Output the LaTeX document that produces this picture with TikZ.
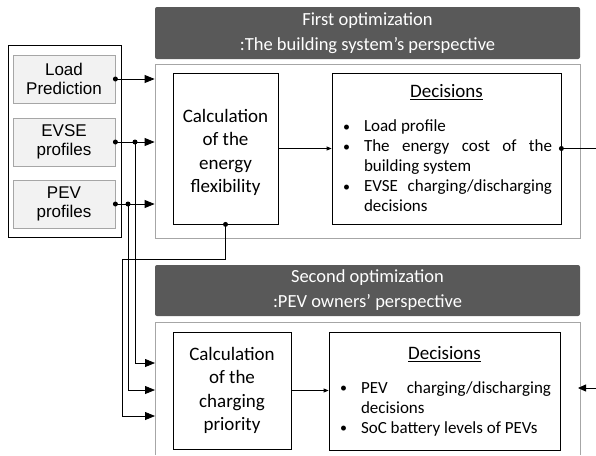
\documentclass[tikz,border=0pt]{standalone}
\usepackage{fontspec}
\setmainfont{Carlito}
\newfontfamily\arialf{Liberation Sans}
\usetikzlibrary{arrows.meta}
\definecolor{hdrgray}{HTML}{595959}
\definecolor{panelgray}{HTML}{A6A6A6}
\definecolor{boxfill}{HTML}{F2F2F2}
\newcommand\dbul{\makebox[23pt][l]{\kern2pt\raisebox{0.5pt}{\fontsize{14}{14}\selectfont\textbullet}}}
\newcommand\ditem[1]{\par\noindent\hangindent=23pt\hangafter=1\dbul#1\par}
\newcommand\jline[1]{\par\noindent\hangindent=23pt\hangafter=1\dbul\makebox[\dimexpr\linewidth-23pt\relax][s]{#1}}
\newcommand\dtitle{{\centering\fontsize{19}{23}\selectfont\underline{Decisions}\par}\vspace{14pt}}
\begin{document}
\begin{tikzpicture}[x=1pt,y=-1pt,
  inbox/.style={draw=panelgray,fill=boxfill,line width=0.8pt,inner sep=0pt,minimum width=102pt,minimum height=48pt,align=center,font=\arialf\fontsize{17}{19}\selectfont},
  hdr/.style={fill=hdrgray,rounded corners=2pt,inner sep=0pt,minimum width=425pt,text=white,align=center,font=\fontsize{18.5}{25}\selectfont},
  panel/.style={draw=panelgray,line width=0.8pt,inner sep=0pt,minimum width=425pt},
  calcbox/.style={draw=black,line width=0.8pt,inner sep=0pt,align=center,font=\fontsize{19}{23.5}\selectfont},
  decbox/.style={draw=black,line width=0.8pt,inner sep=0pt},
  conn/.style={line width=0.8pt,draw=black},
  bigarrow/.style={conn,-{Triangle[length=10pt,width=8pt]}},
  smallarrow/.style={conn,-{Triangle[length=5pt,width=4pt]}},
  midarrow/.style={conn,-{Triangle[length=8pt,width=7pt]}},
  dot/.style={circle,fill=black,inner sep=0pt,minimum size=5pt}
]
\useasboundingbox (0,0) rectangle (596,455);
% left input group
\node[draw=black,line width=0.8pt,minimum width=113pt,minimum height=192pt,inner sep=0pt] (leftbox) at (64.5,141) {};
\node[inbox] (load) at (64,79) {Load\\Prediction};
\node[inbox] (evse) at (64,142) {EVSE\\profiles};
\node[inbox] (pev) at (64,204) {PEV\\profiles};
% first optimization
\node[hdr,minimum height=52pt] (hdr1) at (367.5,33) {First optimization\\:The building system’s perspective};
\node[panel,minimum height=174pt] (panel1) at (367.5,151) {};
\node[calcbox,minimum width=105pt,minimum height=151pt] (calc1) at (225.5,148.5) {\rule{0pt}{21pt}Calculation\\of the\\energy\\flexibility};
\node[decbox,minimum width=229pt,minimum height=151pt] (dec1) at (446.5,148.5) {\begin{minipage}{211pt}\hyphenpenalty=10000\tolerance=10000
\dtitle\fontsize{17}{20}\selectfont
\ditem{Load profile}
\jline{The energy cost of the}
\par\noindent\hspace*{23pt}building system\par
\jline{EVSE charging/discharging}
\par\noindent\hspace*{23pt}decisions\par
\end{minipage}};
% second optimization
\node[hdr,minimum height=51pt] (hdr2) at (367.5,290.5) {Second optimization\\:PEV owners’ perspective};
\coordinate (p2sw) at (155,455);
\coordinate (p2nw) at (155,322);
\coordinate (p2ne) at (580,322);
\coordinate (p2se) at (580,455);
\draw[draw=panelgray,line width=0.8pt] (p2sw) -- (p2nw) -- (p2ne) -- (p2se);
\node[calcbox,minimum width=118pt,minimum height=117pt] (calc2) at (232,390.5) {Calculation\\of the\\charging\\priority};
\node[decbox,minimum width=231pt,minimum height=118pt] (dec2) at (444.5,391) {\begin{minipage}{213pt}\hyphenpenalty=10000\tolerance=10000
\dtitle\fontsize{17}{20}\selectfont
\jline{PEV charging/discharging}
\par\noindent\hspace*{23pt}decisions\par
\ditem{SoC battery levels of PEVs}
\end{minipage}};
% connectors
\coordinate (j1) at (135,142);
\coordinate (j2) at (128,204);
\coordinate (t1) at (155,363);
\coordinate (t2) at (155,390);
\coordinate (t3) at (155,416);
\coordinate (k1) at (225.5,259);
\coordinate (k2) at (122,259);
\coordinate (o1) at (596,148.5);
\coordinate (r1) at (596,388);
\coordinate (r2) at (578,388);
\draw[bigarrow] (load.east) -- (load.east -| panel1.west);
\draw[bigarrow] (evse.east) -- (evse.east -| panel1.west);
\draw[bigarrow] (pev.east) -- (pev.east -| panel1.west);
\draw[bigarrow] (j1) |- (t1);
\draw[bigarrow] (j2) |- (t2);
\draw[bigarrow] (calc1.south) -- (k1) -- (k2) |- (t3);
\draw[smallarrow] (calc1.east) -- (dec1.west);
\draw[smallarrow] (calc2.east) -- (calc2.east -| dec2.west);
\draw[conn] (dec1.east) -- (o1);
\draw[midarrow] (r1) -- (r2);
\node[dot] at (load.east) {};
\node[dot] at (evse.east) {};
\node[dot] at (pev.east) {};
\node[dot] at (j1) {};
\node[dot] at (j2) {};
\node[dot] at (calc1.south) {};
\node[dot] at (dec1.east) {};
\end{tikzpicture}
\end{document}
